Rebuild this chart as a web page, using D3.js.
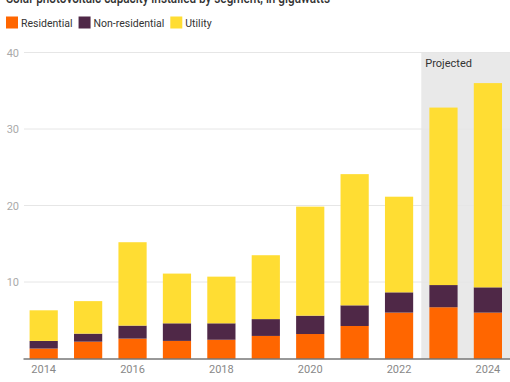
<!DOCTYPE html>
<html><head><meta charset="utf-8">
<script src="https://cdn.jsdelivr.net/npm/d3@7"></script>
<style>
body{margin:0;background:#fff;}
svg{display:block;font-family:Roboto,"Noto Sans",sans-serif;}
</style></head>
<body><svg id="c" width="510" height="382"></svg>
<script>
const years = ["2014","2015","2016","2017","2018","2019","2020","2021","2022","2023","2024"];
const residential = [1.3, 2.2, 2.6, 2.3, 2.45, 2.95, 3.2, 4.25, 6.0, 6.7, 6.0];
const nonResidential = [1.0, 1.05, 1.7, 2.3, 2.15, 2.2, 2.4, 2.7, 2.65, 2.9, 3.3];
const utility = [4.0, 4.25, 10.9, 6.5, 6.1, 8.35, 14.25, 17.15, 12.5, 23.2, 26.7];
const seriesNames = ["Residential","Non-residential","Utility"];
const colors = ["#ff6600","#4f2847","#ffdd33"];
const yTicks = [0,10,20,30,40];
const xTickLabels = ["2014","2016","2018","2020","2022","2024"];
const projectedYears = ["2023","2024"];
const title = "Solar photovoltaic capacity installed by segment, in gigawatts";

const svg = d3.select("#c");
const x = d3.scaleBand().domain(years).range([21.6,510]).paddingInner(0.365).paddingOuter(0.18);
const y = d3.scaleLinear().domain([0,40]).range([358.5,52.5]);

const rows = years.map((yr,i)=>({year:yr, Residential:residential[i], "Non-residential":nonResidential[i], Utility:utility[i]}));
const stack = d3.stack().keys(seriesNames)(rows);

// projected shading
const step = x.step();
const px0 = x(projectedYears[0]) - (step - x.bandwidth())/2;
svg.append("rect").attr("x",px0).attr("y",y(40)).attr("width",510-px0).attr("height",y(0)-y(40)).attr("fill","#e9e9e9");
svg.append("text").attr("x",px0+4).attr("y",y(40)+14).attr("font-size",11).attr("fill","#333").text("Projected");

// grid
const g = svg.append("g");
g.selectAll("line.grid").data(yTicks.filter(d=>d>0)).join("line")
 .attr("x1",24).attr("x2",510).attr("y1",d=>y(d)).attr("y2",d=>y(d))
 .attr("stroke","#e6e6e6").attr("stroke-width",1);
g.selectAll("text.yl").data(yTicks.filter(d=>d>0)).join("text")
 .attr("x",19).attr("y",d=>y(d)+4).attr("text-anchor","end").attr("font-size",11).attr("fill","#aaa").text(d=>d);

// bars
svg.append("g").selectAll("g").data(stack).join("g").attr("fill",(d,i)=>colors[i])
 .selectAll("rect").data(d=>d).join("rect")
 .attr("x",d=>x(d.data.year)).attr("width",x.bandwidth())
 .attr("y",d=>y(d[1])).attr("height",d=>y(d[0])-y(d[1]));

// x axis
svg.append("line").attr("x1",23.5).attr("x2",510).attr("y1",y(0)+0.5).attr("y2",y(0)+0.5).attr("stroke","#333").attr("stroke-width",1);
svg.append("g").selectAll("text").data(xTickLabels).join("text")
 .attr("x",d=>x(d)+x.bandwidth()/2).attr("y",373).attr("text-anchor","middle")
 .attr("font-size",11).attr("fill","#888").text(d=>d);

// title (partly cut off at the top, as in the reference)
svg.append("text").attr("x",6).attr("y",3).attr("font-size",14).attr("font-weight",500).attr("fill","#333")
 .attr("textLength",324).attr("lengthAdjust","spacingAndGlyphs").text(title);

// legend
const leg = svg.append("g");
let lx = 6;
seriesNames.forEach((n,i)=>{
  leg.append("rect").attr("x",lx).attr("y",16.5).attr("width",12).attr("height",12).attr("fill",colors[i]);
  const t = leg.append("text").attr("x",lx+15).attr("y",26.5).attr("font-size",10.5).attr("fill","#333").text(n);
  lx += 15 + t.node().getComputedTextLength() + 6;
});
</script></body></html>
